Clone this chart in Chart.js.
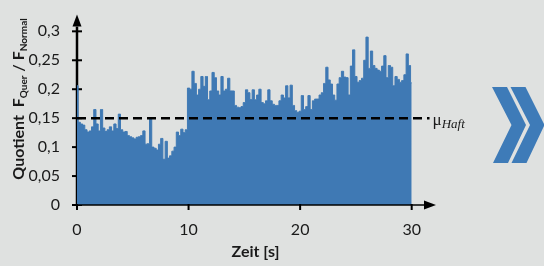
<!DOCTYPE html>
<html>
<head>
<meta charset="utf-8">
<script src="https://cdn.jsdelivr.net/npm/chart.js@4.4.1/dist/chart.umd.min.js"></script>
<style>
  html, body { margin: 0; padding: 0; background: #dfe1e0; }
  #wrap { width: 544px; height: 266px; }
</style>
</head>
<body>
<div id="wrap"><canvas id="chart" width="544" height="266"></canvas></div>
<script>
const timeStep = 0.2;
const quotientValues = [
  0.206, 0.143, 0.140, 0.138, 0.130, 0.126, 0.128, 0.135, 0.165, 0.140,
  0.128, 0.165, 0.133, 0.127, 0.130, 0.135, 0.128, 0.140, 0.132, 0.157,
  0.130, 0.126, 0.127, 0.120, 0.118, 0.116, 0.114, 0.117, 0.118, 0.120,
  0.128, 0.105, 0.106, 0.150, 0.100, 0.098, 0.095, 0.105, 0.115, 0.079,
  0.110, 0.081, 0.085, 0.093, 0.100, 0.126, 0.120, 0.131, 0.125, 0.130,
  0.202, 0.200, 0.231, 0.210, 0.190, 0.200, 0.222, 0.205, 0.222, 0.182,
  0.197, 0.229, 0.220, 0.197, 0.190, 0.222, 0.197, 0.200, 0.219, 0.197,
  0.197, 0.172, 0.169, 0.168, 0.170, 0.177, 0.199, 0.194, 0.182, 0.199,
  0.182, 0.190, 0.200, 0.177, 0.175, 0.180, 0.199, 0.180, 0.174, 0.172,
  0.172, 0.180, 0.190, 0.185, 0.206, 0.185, 0.207, 0.172, 0.163, 0.160,
  0.162, 0.189, 0.165, 0.170, 0.189, 0.165, 0.180, 0.183, 0.183, 0.190,
  0.194, 0.210, 0.238, 0.216, 0.209, 0.190, 0.181, 0.209, 0.220, 0.231,
  0.221, 0.220, 0.190, 0.240, 0.268, 0.222, 0.212, 0.215, 0.219, 0.250,
  0.290, 0.236, 0.266, 0.241, 0.236, 0.233, 0.231, 0.240, 0.258, 0.220,
  0.241, 0.238, 0.206, 0.222, 0.217, 0.212, 0.215, 0.225, 0.261, 0.241,
  0.211
];
const timeValues = quotientValues.map((v, i) => +(i * timeStep).toFixed(1));

const xTicks = [0, 10, 20, 30];
const yTicks = [0, 0.05, 0.1, 0.15, 0.2, 0.25, 0.3];
const muHaft = 0.15;
const dashEnd = 31.6;

const blue = '#3f79b4';
const tickFont = { family: 'Lato', size: 16 };

function decimalComma(v) {
  return String(v).replace('.', ',');
}

// axes with arrows, y title with subscripts, mu label and the chevrons
const decorPlugin = {
  id: 'decor',
  beforeDatasetsDraw(chart) {
    const ctx = chart.ctx;
    const x = chart.scales.x, y = chart.scales.y;
    const x0 = x.getPixelForValue(0);
    const y0 = y.getPixelForValue(0);
    const yTop = y.getPixelForValue(y.max);
    ctx.save();
    ctx.strokeStyle = '#000';
    ctx.fillStyle = '#000';
    ctx.lineWidth = 2.5;
    ctx.beginPath();
    ctx.moveTo(x0, y0);
    ctx.lineTo(x0, yTop + 8);
    ctx.stroke();
    ctx.beginPath();
    ctx.moveTo(x0, yTop - 4);
    ctx.lineTo(x0 - 4.5, yTop + 8);
    ctx.lineTo(x0 + 4.5, yTop + 8);
    ctx.closePath();
    ctx.fill();
    ctx.lineWidth = 2;
    yTicks.forEach(v => {
      const py = y.getPixelForValue(v);
      ctx.beginPath();
      ctx.moveTo(x0 - 5, py);
      ctx.lineTo(x0 + 5, py);
      ctx.stroke();
    });
    ctx.restore();
  },
  afterDatasetsDraw(chart) {
    const ctx = chart.ctx;
    const x = chart.scales.x, y = chart.scales.y;
    const y0 = y.getPixelForValue(0);
    const xEnd = x.getPixelForValue(x.max);
    ctx.save();
    ctx.strokeStyle = '#000';
    ctx.fillStyle = '#000';
    ctx.lineWidth = 1.5;
    ctx.beginPath();
    ctx.moveTo(x.getPixelForValue(0), y0);
    ctx.lineTo(xEnd - 8, y0);
    ctx.stroke();
    ctx.beginPath();
    ctx.moveTo(xEnd + 2, y0);
    ctx.lineTo(xEnd - 10, y0 - 4.5);
    ctx.lineTo(xEnd - 10, y0 + 4.5);
    ctx.closePath();
    ctx.fill();
    ctx.lineWidth = 2;
    xTicks.forEach(v => {
      const px = x.getPixelForValue(v);
      ctx.beginPath();
      ctx.moveTo(px, y0 - 1);
      ctx.lineTo(px, y0 + 5);
      ctx.stroke();
    });

    // mu_Haft label at the end of the dashed line
    const py = y.getPixelForValue(muHaft);
    const lx = x.getPixelForValue(dashEnd) + 3;
    ctx.fillStyle = '#1a1a1a';
    ctx.textBaseline = 'alphabetic';
    ctx.font = '17px "Liberation Serif"';
    ctx.fillText('\u03bc', lx, py + 7);
    const muW = ctx.measureText('\u03bc').width;
    ctx.font = 'italic 13px "Liberation Serif"';
    ctx.fillText('Haft', lx + muW, py + 10);
    ctx.restore();
  },
  afterDraw(chart) {
    const ctx = chart.ctx;
    ctx.save();
    // y title, rotated
    ctx.translate(24, 99);
    ctx.rotate(-Math.PI / 2);
    ctx.fillStyle = '#1a1a1a';
    ctx.textBaseline = 'alphabetic';
    const mainFont = 'bold 16px Lato';
    const subFont = 'bold 10px Lato';
    const parts = [
      ['Quotient  F', mainFont, 0],
      ['Quer', subFont, 3],
      [' / F', mainFont, 0],
      ['Normal', subFont, 3]
    ];
    let total = 0;
    parts.forEach(p => { ctx.font = p[1]; total += ctx.measureText(p[0]).width; });
    let cx = -total / 2;
    parts.forEach(p => {
      ctx.font = p[1];
      ctx.fillText(p[0], cx, p[2]);
      cx += ctx.measureText(p[0]).width;
    });
    ctx.restore();

    // double chevron on the right
    ctx.save();
    ctx.fillStyle = '#3e7bb8';
    [0, 18.5].forEach(dx => {
      ctx.beginPath();
      ctx.moveTo(492 + dx, 87);
      ctx.lineTo(507 + dx, 87);
      ctx.lineTo(526 + dx, 125);
      ctx.lineTo(508 + dx, 163);
      ctx.lineTo(493 + dx, 163);
      ctx.lineTo(511.5 + dx, 125);
      ctx.closePath();
      ctx.fill();
    });
    ctx.restore();
  }
};

new Chart(document.getElementById('chart'), {
  type: 'line',
  data: {
    datasets: [
      {
        label: 'μHaft',
        data: [{ x: 0, y: muHaft }, { x: dashEnd, y: muHaft }],
        borderColor: '#000',
        borderWidth: 2.5,
        borderDash: [9, 5],
        pointRadius: 0,
        fill: false,
        order: 0
      },
      {
        label: 'Quotient',
        data: timeValues.map((t, i) => ({ x: t, y: quotientValues[i] })),
        stepped: 'middle',
        fill: 'origin',
        backgroundColor: blue,
        borderColor: blue,
        borderWidth: 1,
        pointRadius: 0,
        order: 1
      }
    ]
  },
  options: {
    responsive: false,
    animation: false,
    devicePixelRatio: 1,
    layout: { padding: { top: 1, right: 110, left: 0, bottom: 0 } },
    plugins: {
      legend: { display: false },
      tooltip: { enabled: false }
    },
    scales: {
      x: {
        type: 'linear',
        min: 0,
        max: 32,
        afterBuildTicks: s => { s.ticks = xTicks.map(v => ({ value: v })); },
        afterFit: s => { s.height = 61; },
        grid: { display: false },
        border: { display: false },
        ticks: { font: tickFont, color: '#1a1a1a', padding: 7, maxRotation: 0, autoSkip: false },
        title: {
          display: true,
          text: 'Zeit [s]',
          color: '#1a1a1a',
          font: { family: 'Lato', size: 16, weight: 'bold' },
          padding: { top: 0, bottom: 5 }
        }
      },
      y: {
        min: 0,
        max: 0.322,
        afterBuildTicks: s => { s.ticks = yTicks.map(v => ({ value: v })); },
        afterFit: s => { s.width = 77; },
        grid: { display: false },
        border: { display: false },
        ticks: { font: tickFont, color: '#1a1a1a', padding: 9, callback: v => decimalComma(v) }
      }
    }
  },
  plugins: [decorPlugin]
});
</script>
</body>
</html>
